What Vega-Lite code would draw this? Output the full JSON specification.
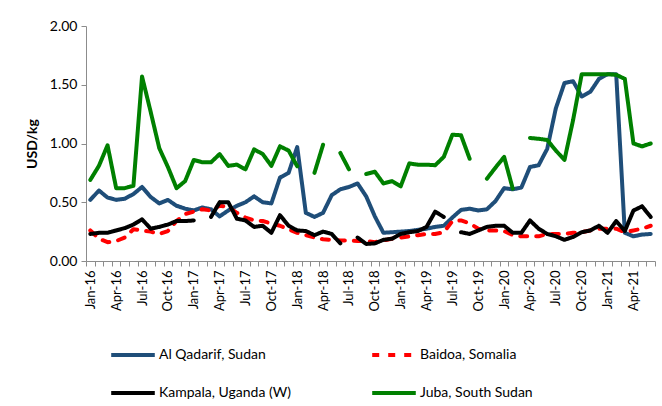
{
  "$schema": "https://vega.github.io/schema/vega-lite/v6.json",
  "width": 569,
  "height": 235,
  "autosize": {"type": "none"},
  "padding": {"left": 86, "top": 26, "right": 7, "bottom": 145},
  "config": {
    "view": {"stroke": null},
    "font": "Lato",
    "axis": {"grid": false, "domainColor": "#8c8c8c", "tickColor": "#8c8c8c", "labelColor": "#000000", "labelFont": "Lato"}
  },
  "data": {
    "values": [
      {"month": "Jan-16", "Al Qadarif, Sudan": 0.52, "Baidoa, Somalia": 0.26, "Kampala, Uganda  (W)": 0.23, "Juba, South Sudan": 0.69},
      {"month": "Feb-16", "Al Qadarif, Sudan": 0.60, "Baidoa, Somalia": 0.19, "Kampala, Uganda  (W)": 0.24, "Juba, South Sudan": 0.81},
      {"month": "Mar-16", "Al Qadarif, Sudan": 0.54, "Baidoa, Somalia": 0.16, "Kampala, Uganda  (W)": 0.24, "Juba, South Sudan": 0.985},
      {"month": "Apr-16", "Al Qadarif, Sudan": 0.52, "Baidoa, Somalia": 0.17, "Kampala, Uganda  (W)": 0.26, "Juba, South Sudan": 0.62},
      {"month": "May-16", "Al Qadarif, Sudan": 0.53, "Baidoa, Somalia": 0.20, "Kampala, Uganda  (W)": 0.28, "Juba, South Sudan": 0.62},
      {"month": "Jun-16", "Al Qadarif, Sudan": 0.57, "Baidoa, Somalia": 0.27, "Kampala, Uganda  (W)": 0.31, "Juba, South Sudan": 0.64},
      {"month": "Jul-16", "Al Qadarif, Sudan": 0.63, "Baidoa, Somalia": 0.26, "Kampala, Uganda  (W)": 0.355, "Juba, South Sudan": 1.57},
      {"month": "Aug-16", "Al Qadarif, Sudan": 0.545, "Baidoa, Somalia": 0.25, "Kampala, Uganda  (W)": 0.275, "Juba, South Sudan": 1.27},
      {"month": "Sep-16", "Al Qadarif, Sudan": 0.49, "Baidoa, Somalia": 0.23, "Kampala, Uganda  (W)": 0.29, "Juba, South Sudan": 0.96},
      {"month": "Oct-16", "Al Qadarif, Sudan": 0.52, "Baidoa, Somalia": 0.255, "Kampala, Uganda  (W)": 0.31, "Juba, South Sudan": 0.80},
      {"month": "Nov-16", "Al Qadarif, Sudan": 0.47, "Baidoa, Somalia": 0.34, "Kampala, Uganda  (W)": 0.34, "Juba, South Sudan": 0.62},
      {"month": "Dec-16", "Al Qadarif, Sudan": 0.445, "Baidoa, Somalia": 0.40, "Kampala, Uganda  (W)": 0.34, "Juba, South Sudan": 0.68},
      {"month": "Jan-17", "Al Qadarif, Sudan": 0.43, "Baidoa, Somalia": 0.42, "Kampala, Uganda  (W)": 0.345, "Juba, South Sudan": 0.86},
      {"month": "Feb-17", "Al Qadarif, Sudan": 0.455, "Baidoa, Somalia": 0.44, "Kampala, Uganda  (W)": null, "Juba, South Sudan": 0.84},
      {"month": "Mar-17", "Al Qadarif, Sudan": 0.44, "Baidoa, Somalia": 0.43, "Kampala, Uganda  (W)": 0.375, "Juba, South Sudan": 0.84},
      {"month": "Apr-17", "Al Qadarif, Sudan": 0.38, "Baidoa, Somalia": 0.47, "Kampala, Uganda  (W)": 0.50, "Juba, South Sudan": 0.91},
      {"month": "May-17", "Al Qadarif, Sudan": 0.43, "Baidoa, Somalia": 0.46, "Kampala, Uganda  (W)": 0.50, "Juba, South Sudan": 0.81},
      {"month": "Jun-17", "Al Qadarif, Sudan": 0.47, "Baidoa, Somalia": 0.41, "Kampala, Uganda  (W)": 0.36, "Juba, South Sudan": 0.82},
      {"month": "Jul-17", "Al Qadarif, Sudan": 0.50, "Baidoa, Somalia": 0.37, "Kampala, Uganda  (W)": 0.345, "Juba, South Sudan": 0.78},
      {"month": "Aug-17", "Al Qadarif, Sudan": 0.55, "Baidoa, Somalia": 0.345, "Kampala, Uganda  (W)": 0.29, "Juba, South Sudan": 0.95},
      {"month": "Sep-17", "Al Qadarif, Sudan": 0.50, "Baidoa, Somalia": 0.34, "Kampala, Uganda  (W)": 0.30, "Juba, South Sudan": 0.91},
      {"month": "Oct-17", "Al Qadarif, Sudan": 0.49, "Baidoa, Somalia": 0.32, "Kampala, Uganda  (W)": 0.24, "Juba, South Sudan": 0.81},
      {"month": "Nov-17", "Al Qadarif, Sudan": 0.71, "Baidoa, Somalia": 0.30, "Kampala, Uganda  (W)": 0.39, "Juba, South Sudan": 0.976},
      {"month": "Dec-17", "Al Qadarif, Sudan": 0.75, "Baidoa, Somalia": 0.27, "Kampala, Uganda  (W)": 0.30, "Juba, South Sudan": 0.94},
      {"month": "Jan-18", "Al Qadarif, Sudan": 0.97, "Baidoa, Somalia": 0.24, "Kampala, Uganda  (W)": 0.26, "Juba, South Sudan": 0.806},
      {"month": "Feb-18", "Al Qadarif, Sudan": 0.41, "Baidoa, Somalia": 0.22, "Kampala, Uganda  (W)": 0.255, "Juba, South Sudan": null},
      {"month": "Mar-18", "Al Qadarif, Sudan": 0.375, "Baidoa, Somalia": 0.20, "Kampala, Uganda  (W)": 0.22, "Juba, South Sudan": 0.75},
      {"month": "Apr-18", "Al Qadarif, Sudan": 0.41, "Baidoa, Somalia": 0.185, "Kampala, Uganda  (W)": 0.25, "Juba, South Sudan": 0.99},
      {"month": "May-18", "Al Qadarif, Sudan": 0.56, "Baidoa, Somalia": 0.18, "Kampala, Uganda  (W)": 0.23, "Juba, South Sudan": null},
      {"month": "Jun-18", "Al Qadarif, Sudan": 0.61, "Baidoa, Somalia": 0.175, "Kampala, Uganda  (W)": 0.15, "Juba, South Sudan": 0.92},
      {"month": "Jul-18", "Al Qadarif, Sudan": 0.63, "Baidoa, Somalia": 0.175, "Kampala, Uganda  (W)": null, "Juba, South Sudan": 0.78},
      {"month": "Aug-18", "Al Qadarif, Sudan": 0.66, "Baidoa, Somalia": 0.17, "Kampala, Uganda  (W)": 0.20, "Juba, South Sudan": null},
      {"month": "Sep-18", "Al Qadarif, Sudan": 0.55, "Baidoa, Somalia": 0.17, "Kampala, Uganda  (W)": 0.145, "Juba, South Sudan": 0.74},
      {"month": "Oct-18", "Al Qadarif, Sudan": 0.38, "Baidoa, Somalia": 0.16, "Kampala, Uganda  (W)": 0.15, "Juba, South Sudan": 0.76},
      {"month": "Nov-18", "Al Qadarif, Sudan": 0.24, "Baidoa, Somalia": 0.175, "Kampala, Uganda  (W)": 0.18, "Juba, South Sudan": 0.66},
      {"month": "Dec-18", "Al Qadarif, Sudan": 0.245, "Baidoa, Somalia": 0.19, "Kampala, Uganda  (W)": 0.19, "Juba, South Sudan": 0.68},
      {"month": "Jan-19", "Al Qadarif, Sudan": 0.25, "Baidoa, Somalia": 0.20, "Kampala, Uganda  (W)": 0.23, "Juba, South Sudan": 0.635},
      {"month": "Feb-19", "Al Qadarif, Sudan": 0.255, "Baidoa, Somalia": 0.21, "Kampala, Uganda  (W)": 0.245, "Juba, South Sudan": 0.83},
      {"month": "Mar-19", "Al Qadarif, Sudan": 0.265, "Baidoa, Somalia": 0.22, "Kampala, Uganda  (W)": 0.255, "Juba, South Sudan": 0.82},
      {"month": "Apr-19", "Al Qadarif, Sudan": 0.275, "Baidoa, Somalia": 0.23, "Kampala, Uganda  (W)": 0.29, "Juba, South Sudan": 0.82},
      {"month": "May-19", "Al Qadarif, Sudan": 0.29, "Baidoa, Somalia": 0.23, "Kampala, Uganda  (W)": 0.42, "Juba, South Sudan": 0.815},
      {"month": "Jun-19", "Al Qadarif, Sudan": 0.30, "Baidoa, Somalia": 0.245, "Kampala, Uganda  (W)": 0.375, "Juba, South Sudan": 0.886},
      {"month": "Jul-19", "Al Qadarif, Sudan": 0.37, "Baidoa, Somalia": 0.34, "Kampala, Uganda  (W)": null, "Juba, South Sudan": 1.075},
      {"month": "Aug-19", "Al Qadarif, Sudan": 0.435, "Baidoa, Somalia": 0.345, "Kampala, Uganda  (W)": 0.245, "Juba, South Sudan": 1.07},
      {"month": "Sep-19", "Al Qadarif, Sudan": 0.445, "Baidoa, Somalia": 0.32, "Kampala, Uganda  (W)": 0.23, "Juba, South Sudan": 0.87},
      {"month": "Oct-19", "Al Qadarif, Sudan": 0.43, "Baidoa, Somalia": 0.275, "Kampala, Uganda  (W)": 0.26, "Juba, South Sudan": null},
      {"month": "Nov-19", "Al Qadarif, Sudan": 0.44, "Baidoa, Somalia": 0.26, "Kampala, Uganda  (W)": 0.29, "Juba, South Sudan": 0.70},
      {"month": "Dec-19", "Al Qadarif, Sudan": 0.51, "Baidoa, Somalia": 0.26, "Kampala, Uganda  (W)": 0.30, "Juba, South Sudan": 0.795},
      {"month": "Jan-20", "Al Qadarif, Sudan": 0.62, "Baidoa, Somalia": 0.255, "Kampala, Uganda  (W)": 0.30, "Juba, South Sudan": 0.886},
      {"month": "Feb-20", "Al Qadarif, Sudan": 0.61, "Baidoa, Somalia": 0.22, "Kampala, Uganda  (W)": 0.24, "Juba, South Sudan": 0.616},
      {"month": "Mar-20", "Al Qadarif, Sudan": 0.625, "Baidoa, Somalia": 0.21, "Kampala, Uganda  (W)": 0.24, "Juba, South Sudan": null},
      {"month": "Apr-20", "Al Qadarif, Sudan": 0.80, "Baidoa, Somalia": 0.21, "Kampala, Uganda  (W)": 0.345, "Juba, South Sudan": 1.047},
      {"month": "May-20", "Al Qadarif, Sudan": 0.815, "Baidoa, Somalia": 0.21, "Kampala, Uganda  (W)": 0.275, "Juba, South Sudan": 1.04},
      {"month": "Jun-20", "Al Qadarif, Sudan": 0.955, "Baidoa, Somalia": 0.23, "Kampala, Uganda  (W)": 0.23, "Juba, South Sudan": 1.03},
      {"month": "Jul-20", "Al Qadarif, Sudan": 1.30, "Baidoa, Somalia": 0.23, "Kampala, Uganda  (W)": 0.21, "Juba, South Sudan": 0.94},
      {"month": "Aug-20", "Al Qadarif, Sudan": 1.515, "Baidoa, Somalia": 0.23, "Kampala, Uganda  (W)": 0.18, "Juba, South Sudan": 0.86},
      {"month": "Sep-20", "Al Qadarif, Sudan": 1.53, "Baidoa, Somalia": 0.24, "Kampala, Uganda  (W)": 0.205, "Juba, South Sudan": 1.2},
      {"month": "Oct-20", "Al Qadarif, Sudan": 1.40, "Baidoa, Somalia": 0.245, "Kampala, Uganda  (W)": 0.245, "Juba, South Sudan": 1.59},
      {"month": "Nov-20", "Al Qadarif, Sudan": 1.44, "Baidoa, Somalia": 0.26, "Kampala, Uganda  (W)": 0.26, "Juba, South Sudan": 1.59},
      {"month": "Dec-20", "Al Qadarif, Sudan": 1.55, "Baidoa, Somalia": 0.275, "Kampala, Uganda  (W)": 0.30, "Juba, South Sudan": 1.59},
      {"month": "Jan-21", "Al Qadarif, Sudan": 1.59, "Baidoa, Somalia": 0.275, "Kampala, Uganda  (W)": 0.24, "Juba, South Sudan": 1.59},
      {"month": "Feb-21", "Al Qadarif, Sudan": 1.59, "Baidoa, Somalia": 0.275, "Kampala, Uganda  (W)": 0.34, "Juba, South Sudan": 1.585},
      {"month": "Mar-21", "Al Qadarif, Sudan": 0.24, "Baidoa, Somalia": 0.245, "Kampala, Uganda  (W)": 0.255, "Juba, South Sudan": 1.55},
      {"month": "Apr-21", "Al Qadarif, Sudan": 0.21, "Baidoa, Somalia": 0.26, "Kampala, Uganda  (W)": 0.43, "Juba, South Sudan": 1.00},
      {"month": "May-21", "Al Qadarif, Sudan": 0.225, "Baidoa, Somalia": 0.275, "Kampala, Uganda  (W)": 0.465, "Juba, South Sudan": 0.975},
      {"month": "Jun-21", "Al Qadarif, Sudan": 0.23, "Baidoa, Somalia": 0.30, "Kampala, Uganda  (W)": 0.375, "Juba, South Sudan": 1.0}
    ]
  },
  "transform": [
    {"fold": ["Al Qadarif, Sudan", "Baidoa, Somalia", "Kampala, Uganda  (W)", "Juba, South Sudan"], "as": ["series", "price"]}
  ],
  "mark": {"type": "line", "strokeWidth": 4, "strokeCap": "round", "strokeJoin": "round"},
  "encoding": {
    "x": {
      "field": "month",
      "type": "ordinal",
      "sort": null,
      "scale": {"type": "band", "paddingInner": 0, "paddingOuter": 0},
      "axis": {
        "title": null,
        "labelAngle": -90,
        "labelAlign": "right",
        "labelBaseline": "middle",
        "labelFontSize": 13,
        "labelPadding": 4,
        "labelOverlap": false,
        "tickBand": "extent",
        "tickSize": 5,
        "labelExpr": "(substring(datum.value,0,3)=='Jan' || substring(datum.value,0,3)=='Apr' || substring(datum.value,0,3)=='Jul' || substring(datum.value,0,3)=='Oct') ? datum.value : ''"
      }
    },
    "y": {
      "field": "price",
      "type": "quantitative",
      "scale": {"domain": [0, 2], "nice": false},
      "axis": {
        "values": [0, 0.5, 1, 1.5, 2],
        "format": ".2f",
        "title": "USD/kg",
        "titleFontSize": 14,
        "titleFontWeight": "bold",
        "titleColor": "#000000",
        "titlePadding": 10,
        "labelFontSize": 14,
        "labelPadding": 4,
        "tickSize": 5
      }
    },
    "color": {
      "field": "series",
      "type": "nominal",
      "scale": {
        "domain": ["Al Qadarif, Sudan", "Baidoa, Somalia", "Kampala, Uganda  (W)", "Juba, South Sudan"],
        "range": ["#1f4e79", "#ff0000", "#000000", "#008000"]
      },
      "legend": {
        "title": null,
        "orient": "none",
        "direction": "horizontal",
        "legendX": 23,
        "legendY": 305,
        "columns": 2,
        "columnPadding": 69,
        "rowPadding": 6,
        "symbolType": "stroke",
        "symbolSize": 1900,
        "symbolStrokeWidth": 4,
        "labelFontSize": 14,
        "labelOffset": 2,
        "labelLimit": 300,
        "labelColor": "#000000"
      }
    },
    "strokeDash": {
      "field": "series",
      "type": "nominal",
      "scale": {
        "domain": ["Al Qadarif, Sudan", "Baidoa, Somalia", "Kampala, Uganda  (W)", "Juba, South Sudan"],
        "range": [[1, 0], [7, 9], [1, 0], [1, 0]]
      }
    }
  }
}
